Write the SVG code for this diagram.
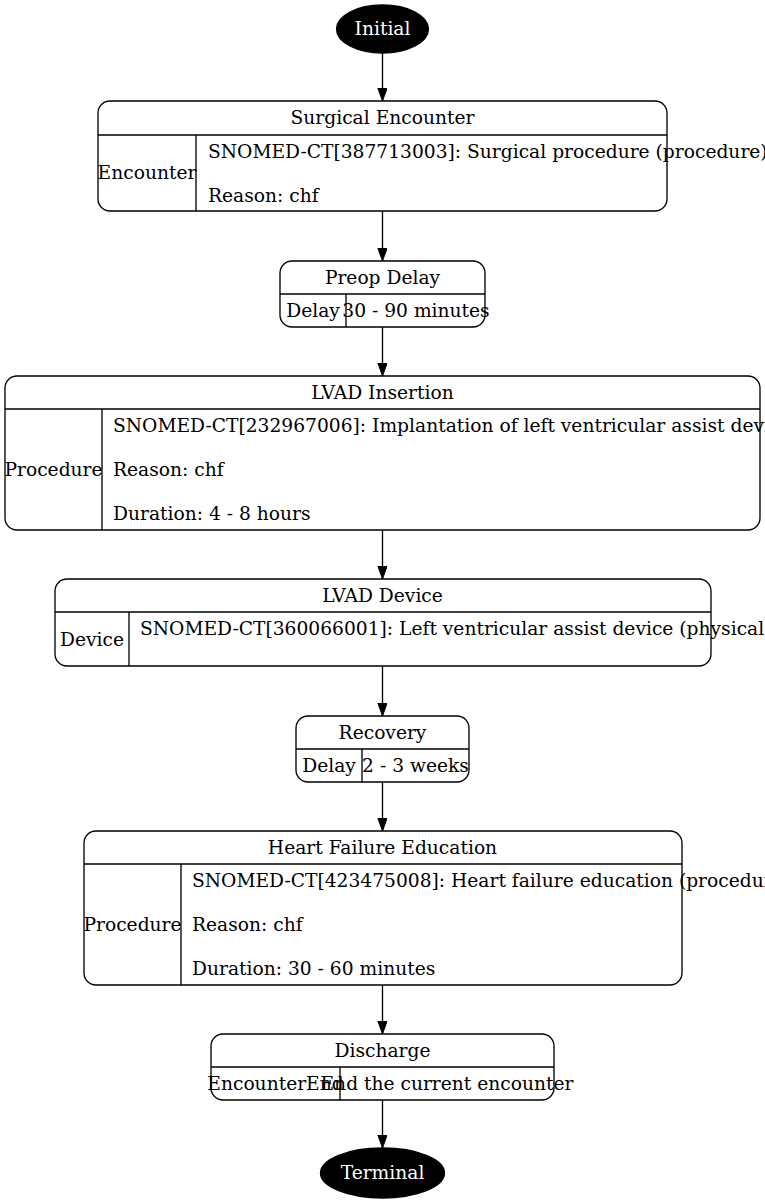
<svg xmlns="http://www.w3.org/2000/svg" width="765" height="1203" viewBox="0 0 765 1203">
<defs>
<style>
.t{font-family:"DejaVu Serif","Liberation Serif",serif;font-size:18.67px;fill:#000}
.w{font-family:"DejaVu Serif","Liberation Serif",serif;font-size:18.67px;fill:#fff;text-anchor:middle}
.m{text-anchor:middle}
.box{fill:#fff;stroke:#000;stroke-width:1.33}
.ln{stroke:#000;stroke-width:1.33;fill:none}
.edge{stroke:#000;stroke-width:1.33;fill:none;marker-end:url(#arr)}
</style>
<marker id="arr" markerUnits="userSpaceOnUse" markerWidth="14" markerHeight="10" refX="13" refY="4.67" orient="auto">
<path d="M0,0 L13,4.67 L0,9.33 z" fill="#000" stroke="#000" stroke-width="1"/>
</marker>
</defs>
<rect width="765" height="1203" fill="#fff"/>
<g id="connectors">
<line class="edge" x1="382.5" y1="53" x2="382.5" y2="101"/>
<line class="edge" x1="382.5" y1="211" x2="382.5" y2="261"/>
<line class="edge" x1="382.5" y1="327" x2="382.5" y2="376"/>
<line class="edge" x1="382.5" y1="530" x2="382.5" y2="579"/>
<line class="edge" x1="382.5" y1="666" x2="382.5" y2="716"/>
<line class="edge" x1="382.5" y1="782" x2="382.5" y2="831"/>
<line class="edge" x1="382.5" y1="985" x2="382.5" y2="1034"/>
<line class="edge" x1="382.5" y1="1100" x2="382.5" y2="1148"/>
</g>
<g id="initial">
<ellipse cx="382.5" cy="29" rx="46" ry="24" fill="#000" stroke="#000" stroke-width="1.33"/>
<text class="w" x="382.5" y="35">Initial</text>
</g>
<g id="surgical-encounter">
<rect class="box" x="98" y="101" width="569" height="110" rx="12"/>
<line class="ln" x1="98" y1="135" x2="667" y2="135"/>
<line class="ln" x1="196" y1="135" x2="196" y2="211"/>
<text class="t m" x="382.5" y="124">Surgical Encounter</text>
<text class="t m" x="147" y="179">Encounter</text>
<text class="t" x="208" y="158">SNOMED-CT[387713003]: Surgical procedure (procedure)</text>
<text class="t" x="208" y="202">Reason: chf</text>
</g>
<g id="preop-delay">
<rect class="box" x="280" y="261" width="205" height="66" rx="12"/>
<line class="ln" x1="280" y1="294" x2="485" y2="294"/>
<line class="ln" x1="346" y1="294" x2="346" y2="327"/>
<text class="t m" x="382.5" y="284">Preop Delay</text>
<text class="t m" x="313" y="317">Delay</text>
<text class="t m" x="416" y="317">30 - 90 minutes</text>
</g>
<g id="lvad-insertion">
<rect class="box" x="5" y="376" width="755" height="154" rx="12"/>
<line class="ln" x1="5" y1="409" x2="760" y2="409"/>
<line class="ln" x1="102" y1="409" x2="102" y2="530"/>
<text class="t m" x="382.5" y="399">LVAD Insertion</text>
<text class="t m" x="53.5" y="476">Procedure</text>
<text class="t" x="113" y="432">SNOMED-CT[232967006]: Implantation of left ventricular assist device</text>
<text class="t" x="113" y="476">Reason: chf</text>
<text class="t" x="113" y="520">Duration: 4 - 8 hours</text>
</g>
<g id="lvad-device">
<rect class="box" x="55" y="579" width="656" height="87" rx="12"/>
<line class="ln" x1="55" y1="612" x2="711" y2="612"/>
<line class="ln" x1="129" y1="612" x2="129" y2="666"/>
<text class="t m" x="382.5" y="602">LVAD Device</text>
<text class="t m" x="92" y="646">Device</text>
<text class="t" x="140" y="635">SNOMED-CT[360066001]: Left ventricular assist device (physical object)</text>
</g>
<g id="recovery">
<rect class="box" x="296" y="716" width="173" height="66" rx="12"/>
<line class="ln" x1="296" y1="749" x2="469" y2="749"/>
<line class="ln" x1="362" y1="749" x2="362" y2="782"/>
<text class="t m" x="382.5" y="739">Recovery</text>
<text class="t m" x="329" y="772">Delay</text>
<text class="t m" x="415.5" y="772">2 - 3 weeks</text>
</g>
<g id="heart-failure-education">
<rect class="box" x="84" y="831" width="598" height="154" rx="12"/>
<line class="ln" x1="84" y1="864" x2="682" y2="864"/>
<line class="ln" x1="181" y1="864" x2="181" y2="985"/>
<text class="t m" x="382.5" y="854">Heart Failure Education</text>
<text class="t m" x="132.5" y="931">Procedure</text>
<text class="t" x="192" y="887">SNOMED-CT[423475008]: Heart failure education (procedure)</text>
<text class="t" x="192" y="931">Reason: chf</text>
<text class="t" x="192" y="975">Duration: 30 - 60 minutes</text>
</g>
<g id="discharge">
<rect class="box" x="211" y="1034" width="343" height="66" rx="12"/>
<line class="ln" x1="211" y1="1067" x2="554" y2="1067"/>
<line class="ln" x1="340" y1="1067" x2="340" y2="1100"/>
<text class="t m" x="382.5" y="1057">Discharge</text>
<text class="t m" x="275.5" y="1090">EncounterEnd</text>
<text class="t m" x="447" y="1090">End the current encounter</text>
</g>
<g id="terminal">
<ellipse cx="382.5" cy="1173" rx="62" ry="25" fill="#000" stroke="#000" stroke-width="1.33"/>
<text class="w" x="382.5" y="1179">Terminal</text>
</g>
</svg>
